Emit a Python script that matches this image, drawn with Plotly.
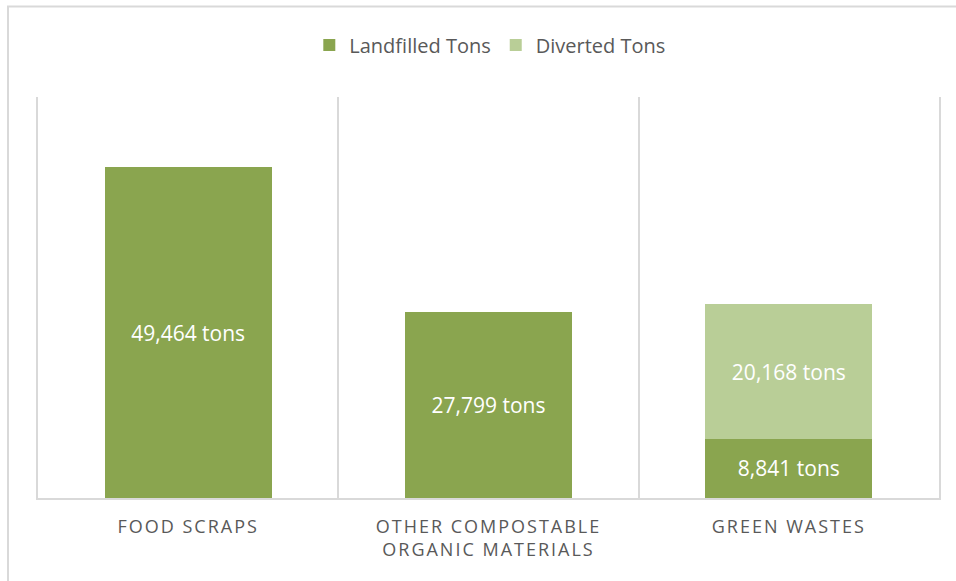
import plotly.graph_objects as go

categories = ["FOOD SCRAPS", "OTHER COMPOSTABLE<br>ORGANIC MATERIALS", "GREEN WASTES"]
landfilled = [49464, 27799, 8841]
diverted = [None, None, 20168]

def labels(vals):
    return [f"{v:,} tons" if v is not None else "" for v in vals]

FONT = "Open Sans"
fig = go.Figure()
fig.add_trace(go.Bar(
    name="Landfilled Tons", x=categories, y=landfilled,
    marker=dict(color="#8AA54F", line=dict(width=0)),
    text=labels(landfilled), textposition="inside", insidetextanchor="middle",
    textfont=dict(color="white", size=21, family=FONT), hoverinfo="skip",
))
fig.add_trace(go.Bar(
    name="Diverted Tons", x=categories, y=diverted,
    marker=dict(color="#B9CE97", line=dict(width=0)),
    text=labels(diverted), textposition="inside", insidetextanchor="middle",
    textfont=dict(color="white", size=21, family=FONT), hoverinfo="skip",
))

fig.update_layout(
    barmode="stack", bargap=0.443,
    width=956, height=581,
    margin=dict(l=38, r=17, t=97, b=83),
    paper_bgcolor="white", plot_bgcolor="white",
    font=dict(family=FONT, color="#595959"),
    legend=dict(orientation="h", x=0.502, xanchor="center", y=1.1297, yanchor="middle",
                font=dict(size=20, color="#595959", family=FONT), itemwidth=30,
                traceorder="normal", itemclick=False),
    xaxis=dict(
        type="category", tickson="boundaries", showgrid=True, gridcolor="#d9d9d9", gridwidth=1.5,
        showline=True, linecolor="#d9d9d9", linewidth=2, ticks="", ticklen=0,
        ticklabelstandoff=11,
        tickfont=dict(size=18, color="#595959", family=FONT),
    ),
    yaxis=dict(range=[0, 60000], showgrid=False, zeroline=False, showticklabels=False,
               ticks="", showline=True, mirror=True, linecolor="#d9d9d9", linewidth=1.5),
    shapes=[dict(type="rect", xref="paper", yref="paper", x0=-0.0333, y0=-0.4, x1=1.2, y1=1.2257,
                 line=dict(color="#d9d9d9", width=2), layer="below")],
)

post = """
var s = document.createElement('style');
s.textContent = 'html, body { margin: 0; padding: 0; overflow: hidden; } .xtick text { letter-spacing: 2px; }';
document.head.appendChild(s);
"""
fig.write_html("out.html", post_script=post, config={"displayModeBar": False})
